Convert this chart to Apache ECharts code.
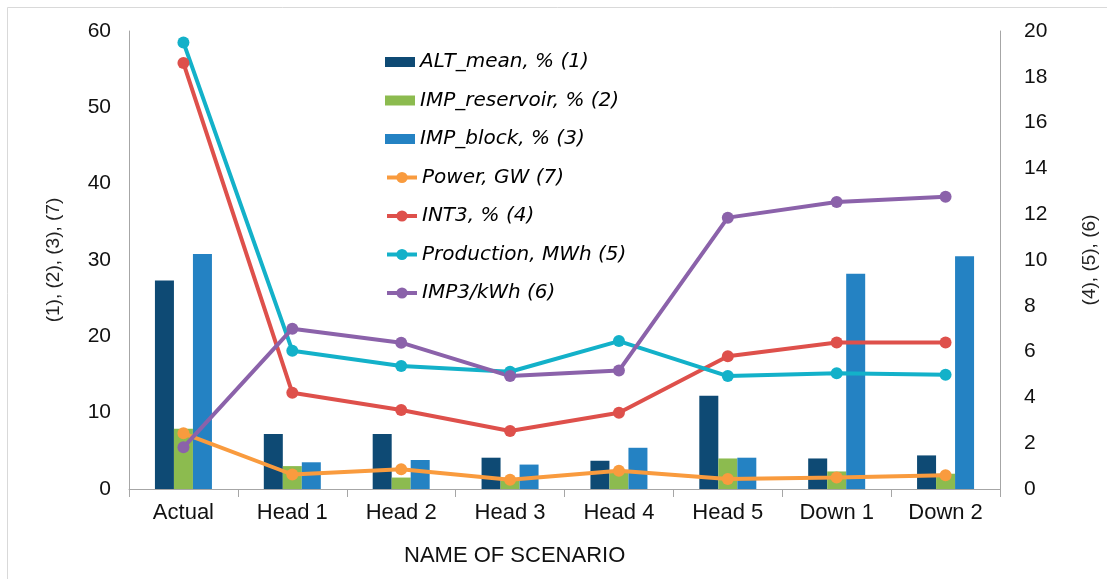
<!DOCTYPE html>
<html>
<head>
<meta charset="utf-8">
<style>
  html, body { margin: 0; padding: 0; background: #fff; }
  #chart { width: 1107px; height: 579px; }
</style>
<script src="https://cdn.jsdelivr.net/npm/echarts@6/dist/echarts.min.js"></script>
</head>
<body>
<div id="chart"></div>
<script>
// Scenario categories
const scenarios = ['Actual', 'Head 1', 'Head 2', 'Head 3', 'Head 4', 'Head 5', 'Down 1', 'Down 2'];

// Left axis series: (1), (2), (3), (7)
const altMean      = [27.3, 7.2, 7.2, 4.1, 3.7, 12.2, 4.0, 4.4];
const impReservoir = [7.9, 3.0, 1.5, 1.1, 2.5, 4.0, 2.3, 2.0];
const impBlock     = [30.8, 3.5, 3.8, 3.2, 5.4, 4.1, 28.2, 30.5];
const powerGW      = [7.3, 1.9, 2.6, 1.2, 2.4, 1.3, 1.5, 1.8];

// Right axis series: (4), (5), (6)
const int3         = [18.6, 4.2, 3.45, 2.53, 3.33, 5.8, 6.4, 6.4];
const production   = [19.5, 6.04, 5.37, 5.12, 6.46, 4.93, 5.05, 4.99];
const imp3kWh      = [1.82, 7.0, 6.39, 4.93, 5.17, 11.85, 12.53, 12.76];

// Axis titles
const leftAxisTitle  = '(1), (2), (3), (7)';
const rightAxisTitle = '(4), (5), (6)';
const xAxisTitle     = 'NAME OF SCENARIO';

const C = {
  alt: '#0e4a74', res: '#8cbb4f', block: '#2482c3',
  power: '#f99b3e', int3: '#de504b', prod: '#13b1c9', imp3: '#8b62aa'
};

const axisGray = '#a6a6a6';
const sans = 'Liberation Sans, Arial, sans-serif';
const tickFont = { color: '#111', fontSize: 21, fontFamily: sans };
const legendText = { color: '#000', fontSize: 20, fontStyle: 'italic', lineHeight: 20,
                     fontFamily: 'DejaVu Sans, sans-serif' };

function barSeries(name, data, color) {
  return {
    name, type: 'bar', data, yAxisIndex: 0, barWidth: 19, barGap: '0%',
    itemStyle: { color }, z: 1
  };
}
function lineSeries(name, data, color, axis) {
  return {
    name, type: 'line', data, yAxisIndex: axis,
    symbol: 'circle', symbolSize: 12,
    lineStyle: { color, width: 4 }, itemStyle: { color }, z: 3
  };
}

const chart = echarts.init(document.getElementById('chart'), null, { renderer: 'canvas' });
chart.setOption({
  animation: false,
  backgroundColor: '#fff',
  grid: { left: 129, right: 106, top: 31, bottom: 90 },
  legend: [
    {
      orient: 'vertical', left: 385, top: 52, padding: 0,
      itemWidth: 30, itemHeight: 10, itemGap: 18.5,
      textStyle: legendText,
      data: [
        { name: 'ALT_mean, % (1)', icon: 'rect' },
        { name: 'IMP_reservoir, % (2)', icon: 'rect' },
        { name: 'IMP_block, % (3)', icon: 'rect' }
      ]
    },
    {
      orient: 'vertical', left: 385, top: 167.5, padding: 0,
      itemWidth: 30, itemHeight: 14, itemGap: 18.5,
      lineStyle: { width: 4 },
      textStyle: legendText,
      data: ['Power, GW (7)', 'INT3, % (4)', 'Production, MWh (5)', 'IMP3/kWh (6)']
    }
  ],
  xAxis: {
    type: 'category', data: scenarios, boundaryGap: true,
    axisLine: { show: true, lineStyle: { color: axisGray, width: 1 } },
    axisTick: { show: true, length: 8, lineStyle: { color: axisGray } },
    axisLabel: { margin: 13, fontSize: 22, color: '#111', fontFamily: sans },
    splitLine: { show: false }
  },
  yAxis: [
    {
      type: 'value', min: 0, max: 60, interval: 10, position: 'left',
      name: leftAxisTitle, nameLocation: 'middle', nameGap: 66, nameRotate: 90,
      nameTextStyle: { color: '#222', fontSize: 19, fontFamily: sans },
      axisLine: { show: true, lineStyle: { color: axisGray, width: 1 } },
      axisTick: { show: false },
      axisLabel: Object.assign({ margin: 18 }, tickFont),
      splitLine: { show: false }
    },
    {
      type: 'value', min: 0, max: 20, interval: 2, position: 'right',
      name: rightAxisTitle, nameLocation: 'middle', nameGap: 80, nameRotate: 90,
      nameTextStyle: { color: '#222', fontSize: 19, fontFamily: sans },
      axisLine: { show: true, lineStyle: { color: axisGray, width: 1 } },
      axisTick: { show: false },
      axisLabel: Object.assign({ margin: 24 }, tickFont),
      splitLine: { show: false }
    }
  ],
  graphic: [
    { type: 'line', shape: { x1: 7.5, y1: 7.5, x2: 1107, y2: 7.5 }, style: { stroke: '#d9d9d9', lineWidth: 1 }, silent: true },
    { type: 'line', shape: { x1: 7.5, y1: 7.5, x2: 7.5, y2: 579 }, style: { stroke: '#d9d9d9', lineWidth: 1 }, silent: true },
    {
      type: 'text', left: 404, top: 545, silent: true,
      style: { text: xAxisTitle, fill: '#111', fontSize: 22, fontFamily: sans }
    }
  ],
  series: [
    barSeries('ALT_mean, % (1)', altMean, C.alt),
    barSeries('IMP_reservoir, % (2)', impReservoir, C.res),
    barSeries('IMP_block, % (3)', impBlock, C.block),
    lineSeries('Power, GW (7)', powerGW, C.power, 0),
    lineSeries('INT3, % (4)', int3, C.int3, 1),
    lineSeries('Production, MWh (5)', production, C.prod, 1),
    lineSeries('IMP3/kWh (6)', imp3kWh, C.imp3, 1)
  ]
});
</script>
</body>
</html>
